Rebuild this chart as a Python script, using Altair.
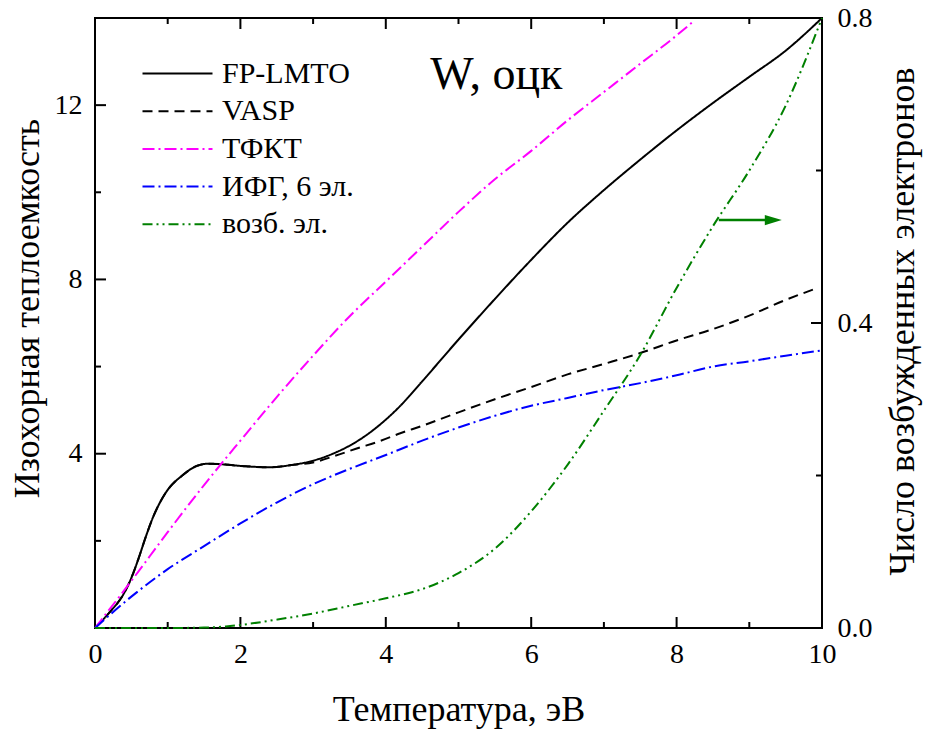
import altair as alt
import pandas as pd

# ---------------- data ----------------
T_LMTO = [0, 0.2, 0.4, 0.5, 0.6, 0.7, 0.8, 0.9, 1.0, 1.2, 1.4, 1.55, 1.8, 2.0, 2.4, 2.7, 3.0, 3.3, 3.6, 3.9, 4.2, 4.5,
          5.0, 5.5, 6.0, 6.5, 7.0, 7.5, 8.0, 8.5, 9.0, 9.5, 10.0]
C_LMTO = [0, 0.36, 0.80, 1.15, 1.6, 2.1, 2.55, 2.9, 3.17, 3.5, 3.72, 3.77, 3.75, 3.72, 3.69, 3.74, 3.84, 4.02, 4.28, 4.64,
          5.1, 5.66, 6.62, 7.55, 8.45, 9.3, 10.05, 10.75, 11.42, 12.05, 12.65, 13.25, 14.0]

T_VASP = [0, 0.2, 0.4, 0.5, 0.6, 0.7, 0.8, 0.9, 1.0, 1.2, 1.4, 1.55, 1.8, 2.0, 2.4, 2.7, 3.0, 3.3, 3.6, 3.9, 4.2, 4.5,
          5.0, 5.5, 6.0, 6.5, 7.0, 7.5, 8.0, 8.5, 9.0, 9.5, 9.9]
C_VASP = [0, 0.36, 0.80, 1.15, 1.6, 2.1, 2.55, 2.9, 3.17, 3.5, 3.72, 3.77, 3.75, 3.72, 3.69, 3.74, 3.80, 3.95, 4.12, 4.28,
          4.47, 4.64, 4.95, 5.25, 5.53, 5.82, 6.06, 6.31, 6.60, 6.86, 7.17, 7.53, 7.78]

T_TFKT = [0, 0.5, 1.0, 1.5, 2.0, 2.5, 3.0, 3.5, 4.0, 4.5, 5.0, 5.5, 6.0, 6.5, 7.0, 7.5, 8.0, 8.25]
C_TFKT = [0, 1.08, 2.2, 3.28, 4.3, 5.3, 6.25, 7.15, 7.95, 8.75, 9.55, 10.3, 10.95, 11.65, 12.3, 12.95, 13.6, 13.95]

T_IFG = [0, 0.5, 1.0, 1.5, 2.0, 2.5, 3.0, 3.5, 4.0, 4.5, 5.0, 5.5, 6.0, 6.5, 7.0, 7.5, 8.0, 8.5, 9.0, 9.5, 10.0]
C_IFG = [0, 0.72, 1.35, 1.88, 2.4, 2.88, 3.3, 3.65, 3.97, 4.3, 4.6, 4.87, 5.1, 5.28, 5.46, 5.62, 5.8, 6.0, 6.12, 6.25, 6.37]

T_EXC = [0, 1.0, 1.5, 1.8, 2.0, 2.5, 3.0, 3.5, 4.0, 4.5, 5.0, 5.5, 6.0, 6.5, 7.0, 7.5, 8.0, 8.5, 9.0, 9.5, 10.0]
N_EXC = [0, 0, 0.0005, 0.002, 0.004, 0.011, 0.019, 0.029, 0.039, 0.051, 0.072, 0.104, 0.153, 0.214, 0.285, 0.358,
         0.446, 0.527, 0.6, 0.685, 0.8]

names = ["FP-LMTO", "VASP", "ТФКТ", "ИФГ, 6 эл.", "возб. эл."]
colors = ["#000000", "#000000", "#FF00FF", "#0000FF", "#008000"]
dashes = [[1, 0], [10, 6], [12, 4, 2, 4], [12, 4, 2, 4], [10, 4, 2, 4, 2, 4]]

x_major = [2, 4, 6, 8]
x_minor = [1, 3, 5, 7, 9]
yl_major = [4, 8, 12]
yl_minor = [2, 6, 10]
yr_major = [0.4]
yr_minor = [0.2, 0.6]

x_labels = [0, 2, 4, 6, 8, 10]
yl_labels = [4, 8, 12]
yr_labels = [0.0, 0.4, 0.8]

title_text = ["W, оцк"]
title_x = [5.52]
title_y = [12.38]

arrow_v = [0.535]
arrow_x1 = [8.58]
arrow_x2 = [9.25]
arrow_head_x = [9.33]

# ---------------- frames ----------------
rows = []
for nm, T, C in [(names[0], T_LMTO, C_LMTO), (names[1], T_VASP, C_VASP),
                 (names[2], T_TFKT, C_TFKT), (names[3], T_IFG, C_IFG)]:
    for t, c in zip(T, C):
        rows.append({"T": t, "C": c, "series": nm})
df_left = pd.DataFrame(rows)
df_right = pd.DataFrame({"T": T_EXC, "N": N_EXC, "series": names[4]})

W, H = 727, 610
FONT = "Liberation Serif, serif"

xscale = alt.Scale(domain=[0, 10], nice=False, zero=False)
ylscale = alt.Scale(domain=[0, 14], nice=False)
yrscale = alt.Scale(domain=[0, 0.8], nice=False)

common = dict(ticks=False, domain=False, grid=False, labelFont=FONT, titleFont=FONT,
              labelFontSize=28, labelColor="black", titleColor="black", labelFlush=False,
              labelOverlap=False, titleFontSize=36, titleFontWeight="normal", titleBaseline="alphabetic")

xaxis = alt.Axis(values=x_labels, format="d", labelPadding=12,
                 title="Температура, эВ", titleY=92, **common)
ylaxis = alt.Axis(values=yl_labels, format="d", labelPadding=13,
                  title="Изохорная теплоемкость", titleAngle=270, titleX=-57, titleY=290, **common)
yraxis = alt.Axis(orient="right", values=yr_labels, format=".1f", labelPadding=15,
                  title="Число возбужденных электронов", titleAngle=270, titleX=91, titleY=303, **common)

# long horizontal stroke symbol (path drawn at twice the nominal symbol size)
legend = alt.Legend(title=None, orient="none", legendX=64, legendY=37, symbolType="M-2,0H2",
                    symbolSize=1225, symbolStrokeWidth=2, labelFontSize=30, labelFont=FONT,
                    labelColor="black", labelOffset=26, rowPadding=3.7, padding=0, labelLimit=500)

color = alt.Color("series:N", scale=alt.Scale(domain=names, range=colors), legend=legend)
dash = alt.StrokeDash("series:N", scale=alt.Scale(domain=names, range=dashes), legend=legend)

lines_left = alt.Chart(df_left).mark_line(strokeWidth=2, interpolate="monotone").encode(
    x=alt.X("T:Q", scale=xscale, axis=xaxis),
    y=alt.Y("C:Q", scale=ylscale, axis=ylaxis),
    color=color, strokeDash=dash,
)

def xticks(vals, y0, y1):
    return alt.Chart(pd.DataFrame({"t": vals})).mark_rule(color="black", strokeWidth=2).encode(
        x=alt.X("t:Q", scale=xscale, axis=xaxis), y=alt.value(y0), y2=alt.value(y1))

def yticks(vals, scale, axis, x0, x1):
    return alt.Chart(pd.DataFrame({"t": vals})).mark_rule(color="black", strokeWidth=2).encode(
        y=alt.Y("t:Q", scale=scale, axis=axis), x=alt.value(x0), x2=alt.value(x1))

title_mark = alt.Chart(pd.DataFrame({"x": title_x, "y": title_y, "label": title_text})).mark_text(
    font=FONT, fontSize=46, align="center", baseline="alphabetic", color="black").encode(
    x=alt.X("x:Q", scale=xscale, axis=xaxis), y=alt.Y("y:Q", scale=ylscale, axis=ylaxis), text="label:N")

left_group = alt.layer(
    lines_left,
    xticks(x_major, H, H - 11), xticks(x_minor, H, H - 6),
    xticks(x_major, 0, 11), xticks(x_minor, 0, 6),
    yticks(yl_major, ylscale, ylaxis, 0, 11), yticks(yl_minor, ylscale, ylaxis, 0, 6),
    title_mark,
)

line_right = alt.Chart(df_right).mark_line(strokeWidth=2, interpolate="monotone").encode(
    x=alt.X("T:Q", scale=xscale, axis=xaxis),
    y=alt.Y("N:Q", scale=yrscale, axis=yraxis),
    color=color, strokeDash=dash,
)

arrow_df = pd.DataFrame({"x1": arrow_x1, "x2": arrow_x2, "v": arrow_v, "xh": arrow_head_x})
arrow_line = alt.Chart(arrow_df).mark_rule(color="#008000", strokeWidth=2.5).encode(
    x=alt.X("x1:Q", scale=xscale, axis=xaxis), x2="x2:Q",
    y=alt.Y("v:Q", scale=yrscale, axis=yraxis))
arrow_head = alt.Chart(arrow_df).mark_point(
    shape="M-1,-0.6L1,0L-1,0.6Z", filled=True, color="#008000", opacity=1, size=289).encode(
    x=alt.X("xh:Q", scale=xscale, axis=xaxis),
    y=alt.Y("v:Q", scale=yrscale, axis=yraxis))

right_group = alt.layer(
    line_right,
    yticks(yr_major, yrscale, yraxis, W, W - 11), yticks(yr_minor, yrscale, yraxis, W, W - 6),
    arrow_line, arrow_head,
)

chart = alt.layer(left_group, right_group).resolve_scale(y="independent").properties(
    width=W, height=H,
    autosize=alt.AutoSizeParams(type="none"),
    padding={"left": 95, "top": 18, "right": 103, "bottom": 101},
    background="white",
).configure(
    font=FONT,
    style={"guide-label": {"font": FONT}, "guide-title": {"font": FONT}},
).configure_view(stroke="black", strokeWidth=2).configure_axis(
    labelColor="black", titleColor="black", labelFont=FONT, titleFont=FONT
).configure_text(font=FONT)

chart.save("out.html", embed_options={"renderer": "svg", "actions": False})
